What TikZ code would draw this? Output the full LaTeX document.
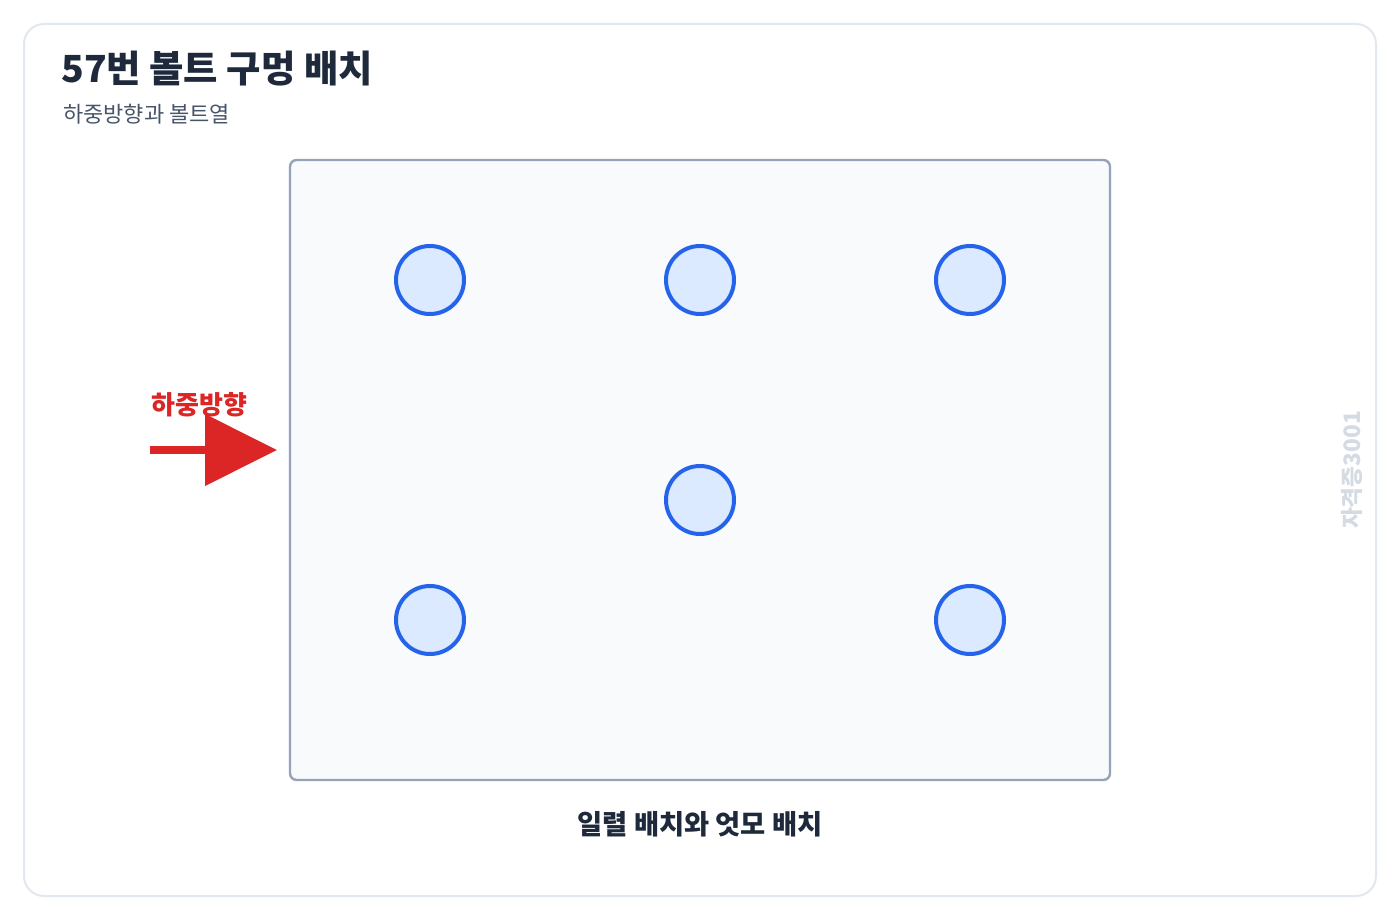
\documentclass[tikz,border=0pt]{standalone}
\usepackage{fontspec}
\setmainfont{Noto Sans CJK KR}
\usepackage{xcolor}
\usetikzlibrary{arrows.meta,
	positioning}
\definecolor{titlecol}{HTML}{1E293B}
\definecolor{subcol}{HTML}{475569}
\definecolor{framecol}{HTML}{E2E8F0}
\definecolor{platefill}{HTML}{F8FAFC}
\definecolor{plateline}{HTML}{94A3B8}
\definecolor{holefill}{HTML}{DBEAFE}
\definecolor{holeline}{HTML}{2563EB}
\definecolor{loadcol}{HTML}{DC2626}
\definecolor{markcol}{HTML}{D5DBE3}
\tikzset{
	hole/.style={circle,draw=holeline,fill=holefill,line width=3pt,minimum size=51pt,inner sep=0pt},
	plate/.style={draw=plateline,fill=platefill,line width=1.8pt,rounded corners=5pt},
	loadarrow/.style={draw=loadcol,line width=6pt,-{Triangle[length=54pt,width=52.5pt]}}
}

\begin{document}
\begin{tikzpicture}[x=0.75pt,y=-0.75pt]
	\useasboundingbox (0,0) rectangle (1400,920);
	\draw[framecol,line width=1.5pt,rounded corners=15pt] (24,24) rectangle (1376,896);
	% title
	\node[anchor=base west,inner sep=0pt,text=titlecol,font=\fontsize{28}{32}\selectfont\bfseries] (title) at (61,83) {57번 볼트 구멍 배치};
	\node[anchor=base west,inner sep=0pt,text=subcol,font=\fontsize{16.5}{20}\selectfont] (subtitle) at (63,123) {하중방향과 볼트열};
	% plate and holes
	\draw[plate] (290,160) rectangle (1110,780);
	\foreach \cx/\cy [count=\i] in {430/280,700/280,970/280,700/500,430/620,970/620} {
		\node[hole] (hole\i) at (\cx,\cy) {};
	}
	% load
	\coordinate (loadtail) at (150,450);
	\coordinate (loadtip) at (277,450);
	\draw[loadarrow] (loadtail) -- (loadtip);
	\node[anchor=base west,inner sep=0pt,text=loadcol,font=\fontsize{19.5}{22}\selectfont\bfseries] (loadlabel) at (151,414) {하중방향};
	\node[anchor=base,inner sep=0pt,text=titlecol,font=\fontsize{20.5}{24}\selectfont\bfseries] (caption) at (700,834) {일렬 배치와 엇모 배치};
	\node[rotate=90,inner sep=0pt,text=markcol,font=\fontsize{17}{20}\selectfont\bfseries] (mark) at (1352,470) {자격증3001};
\end{tikzpicture}
\end{document}
